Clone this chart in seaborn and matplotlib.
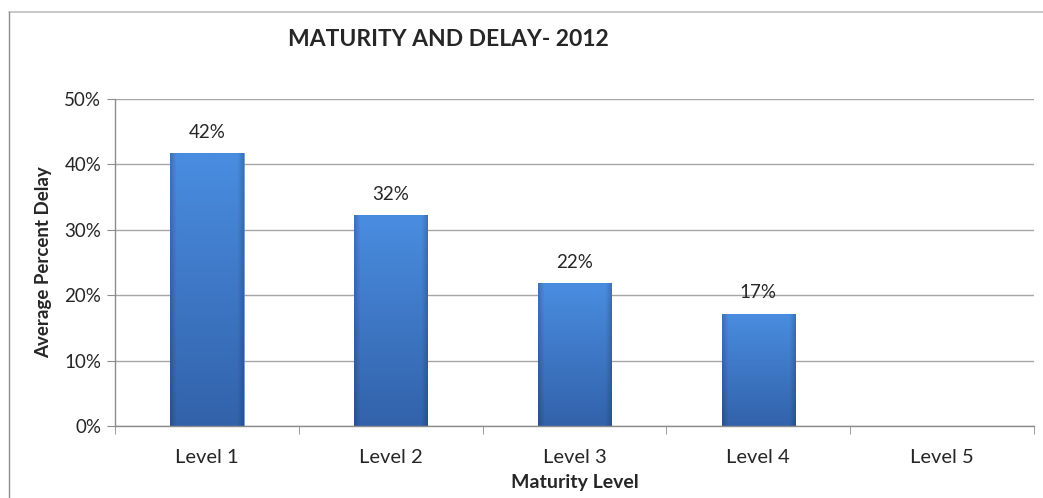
import numpy as np
import pandas as pd
import matplotlib
matplotlib.use("Agg")
import matplotlib.pyplot as plt
import seaborn as sns
from matplotlib.colors import LinearSegmentedColormap
from matplotlib.lines import Line2D

categories = ["Level 1", "Level 2", "Level 3", "Level 4", "Level 5"]
values = [41.7, 32.2, 21.8, 17.2, np.nan]
value_labels = ["42%", "32%", "22%", "17%", ""]
y_ticks = [0, 10, 20, 30, 40, 50]
y_tick_labels = ["0%", "10%", "20%", "30%", "40%", "50%"]
title = "MATURITY AND DELAY- 2012"
x_label = "Maturity Level"
y_label = "Average Percent Delay"

sns.set_style("white")
plt.rcParams['font.family'] = ['Lato', 'DejaVu Sans']

df = pd.DataFrame({"Level": categories, "Delay": values})

fig = plt.figure(figsize=(10.43, 4.98), dpi=100)
ax = fig.add_axes([0.1103, 0.1446, 0.8811, 0.6566])

sns.barplot(data=df, x="Level", y="Delay", ax=ax, color="#3f78c8",
            width=0.40, saturation=1, order=categories)

ax.set_ylim(0, 50)
ax.set_xlim(-0.5, len(categories) - 0.5)
ax.set_yticks(y_ticks)
ax.set_yticklabels(y_tick_labels)
ax.yaxis.grid(True, color="#a6a6a6", linewidth=1)
ax.set_axisbelow(True)

for s in ["top", "right"]:
    ax.spines[s].set_visible(False)
for s in ["left", "bottom"]:
    ax.spines[s].set_color("#8c8c8c")
    ax.spines[s].set_linewidth(1)

ax.tick_params(axis="y", left=True, length=6, color="#8c8c8c", labelsize=13.5, pad=4)
ax.tick_params(axis="x", bottom=False, labelsize=14.5, pad=13)
ax.set_xticks(np.arange(len(categories)))
ax.set_xticklabels(categories)
ax.set_xticks(np.arange(-0.5, len(categories)), minor=True)
ax.tick_params(axis="x", which="minor", bottom=True, length=6, color="#8c8c8c")

ax.set_xlabel(x_label, fontsize=14, fontweight="bold", labelpad=6)
ax.set_ylabel(y_label, fontsize=13.5, fontweight="bold", labelpad=9)

# gradient fill for bars
vert = LinearSegmentedColormap.from_list("v", ["#3262aa", "#4a8de0"])
grad = np.linspace(0, 1, 256).reshape(-1, 1)
xs = np.linspace(0, 1, 64)
edge = 1 - 0.18 * (np.clip(1 - np.minimum(xs, 1 - xs) / 0.08, 0, 1))
for patch, lab in zip(ax.patches, value_labels):
    h = patch.get_height()
    if not np.isfinite(h) or h <= 0:
        continue
    x0 = patch.get_x()
    w = patch.get_width()
    rgb = vert(grad)[:, :, :3]
    img = rgb * edge.reshape(1, -1, 1)
    im = ax.imshow(img, extent=[x0, x0 + w, 0, h], origin="lower",
                   aspect="auto", zorder=2.5, interpolation="bilinear")
    im.set_clip_path(patch)
    patch.set_facecolor("none")
    patch.set_edgecolor("#5b8fd0")
    patch.set_linewidth(0.6)
    ax.annotate(lab, (x0 + w / 2, h), xytext=(0, 9), textcoords="offset points",
                ha="center", va="bottom", fontsize=13.5)

ax.set_xlim(-0.5, len(categories) - 0.5)
ax.set_ylim(0, 50)

fig.text(0.43, 0.92, title, ha="center", va="center", fontsize=16.5, fontweight="bold")

# chart border (top and left)
fig.add_artist(Line2D([0.0086, 1.0], [0.976, 0.976], color="#bfbfbf", linewidth=1.2,
                      transform=fig.transFigure))
fig.add_artist(Line2D([0.0086, 0.0086], [0.0, 0.976], color="#8c8c8c", linewidth=1.0,
                      transform=fig.transFigure))

fig.savefig("out.png", dpi=100)
